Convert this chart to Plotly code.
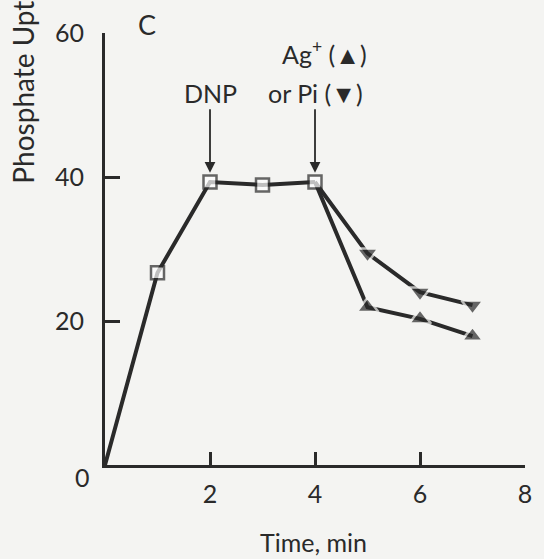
import plotly.graph_objects as go

# Data (panel C)
time_ctrl = [0, 1, 2, 3, 4]
uptake_ctrl = [0, 26.7, 39.3, 38.9, 39.3]

time_ag = [4, 5, 6, 7]
uptake_ag = [39.3, 21.9, 20.3, 17.9]

time_pi = [4, 5, 6, 7]
uptake_pi = [39.3, 29.4, 24.0, 22.2]

x_ticks = [2, 4, 6, 8]
y_ticks = [20, 40, 60]

INK = "#2a2a2a"
BG = "#f4f4f2"
FONT = "Lato"
FS = 25


def px_x(p):
    return (p - 105) / 426


def px_y(p):
    return (465 - p) / 432


fig = go.Figure()

fig.add_trace(go.Scatter(
    x=time_pi, y=uptake_pi, mode="lines+markers",
    line=dict(color=INK, width=4),
    marker=dict(symbol="triangle-down", size=[0, 19, 19, 19], color=INK,
                line=dict(color=BG, width=2.5)),
    showlegend=False, cliponaxis=False))

fig.add_trace(go.Scatter(
    x=time_ag, y=uptake_ag, mode="lines+markers",
    line=dict(color=INK, width=4),
    marker=dict(symbol="triangle-up", size=[0, 19, 19, 19], color=INK,
                line=dict(color=BG, width=2.5)),
    showlegend=False, cliponaxis=False))

fig.add_trace(go.Scatter(
    x=time_ctrl, y=uptake_ctrl, mode="lines+markers",
    line=dict(color=INK, width=4),
    marker=dict(symbol="square", size=[0, 13, 13, 13, 13], color="white",
                line=dict(color=INK, width=2.5)),
    showlegend=False, cliponaxis=False))

annotations = [
    dict(text="DNP", x=2, y=40.6, xref="x", yref="y", ax=0, ay=-80,
         showarrow=True, arrowhead=2, arrowsize=1.2, arrowwidth=1.8,
         arrowcolor=INK, font=dict(size=FS, color=INK, family=FONT)),
    dict(text="or Pi (▼)", x=4, y=40.6, xref="x", yref="y", ax=0, ay=-80,
         showarrow=True, arrowhead=2, arrowsize=1.2, arrowwidth=1.8,
         arrowcolor=INK, font=dict(size=FS, color=INK, family=FONT)),
    dict(text="Ag<sup>+</sup> (▲)", x=px_x(373), y=px_y(52), xref="paper", yref="paper",
         xanchor="right", yanchor="middle", showarrow=False,
         font=dict(size=FS, color=INK, family=FONT)),
    dict(text="C", x=px_x(148), y=px_y(24), xref="paper", yref="paper",
         xanchor="center", yanchor="middle", showarrow=False,
         font=dict(size=27, color=INK, family=FONT)),
    dict(text="0", x=px_x(82), y=px_y(477), xref="paper", yref="paper",
         xanchor="center", yanchor="middle", showarrow=False,
         font=dict(size=FS, color=INK, family=FONT)),
    dict(text="Phosphate Upt", textangle=-90, x=px_x(22), y=px_y(186),
         xref="paper", yref="paper", xanchor="center", yanchor="bottom",
         showarrow=False, font=dict(size=28, color=INK, family=FONT)),
    dict(text="Time, min", x=px_x(316), y=px_y(542), xref="paper", yref="paper",
         xanchor="center", yanchor="middle", showarrow=False,
         font=dict(size=FS, color=INK, family=FONT)),
]

fig.update_layout(
    width=544, height=559,
    margin=dict(l=105, r=13, t=33, b=94),
    paper_bgcolor=BG, plot_bgcolor=BG,
    font=dict(family=FONT, color=INK, size=FS),
    annotations=annotations,
    xaxis=dict(range=[0, 8], tickvals=x_ticks, ticktext=[str(v) for v in x_ticks],
               ticks="inside", ticklen=13, tickwidth=3, tickcolor=INK,
               showline=True, linewidth=3, linecolor=INK, showgrid=False,
               zeroline=False, ticklabelstandoff=5,
               tickfont=dict(size=FS, color=INK, family=FONT)),
    yaxis=dict(range=[0, 60], tickvals=y_ticks, ticktext=[str(v) for v in y_ticks],
               ticks="inside", ticklen=15, tickwidth=3, tickcolor=INK,
               showline=True, linewidth=3, linecolor=INK, showgrid=False,
               zeroline=False, ticklabelstandoff=13,
               tickfont=dict(size=FS, color=INK, family=FONT)),
)

fig.write_html("out.html")
